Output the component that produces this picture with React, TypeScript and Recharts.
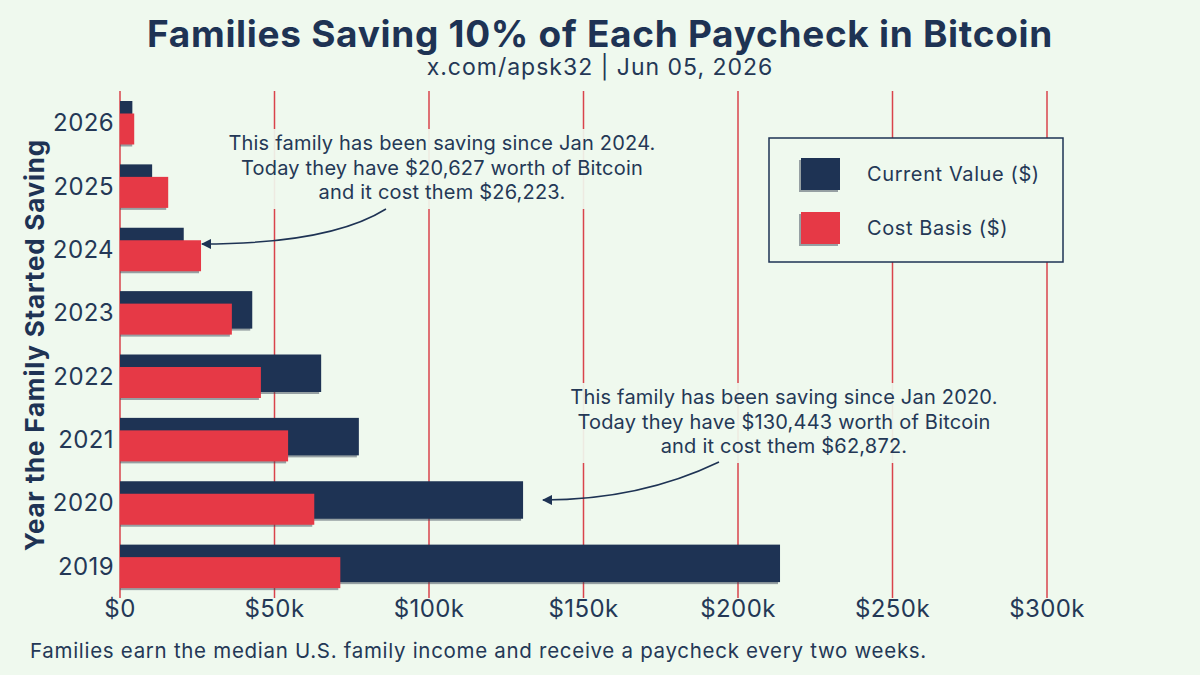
import { Bar, BarChart, CartesianGrid, XAxis, YAxis } from "recharts";

// values
const YEARS = ["2026", "2025", "2024", "2023", "2022", "2021", "2020", "2019"];
const CURRENT_VALUE = [4000, 10400, 20627, 42800, 65100, 77300, 130443, 213600];
const COST_BASIS = [4600, 15600, 26223, 36200, 45600, 54400, 62872, 71300];
const X_TICKS = [0, 50000, 100000, 150000, 200000, 250000, 300000];

const NAVY = "#1e3354";
const RED = "#e63946";
const BG = "#eff9ee";
const INK = "#243856";
const GRID = "#d9434b";
const FONT = "Inter, 'Noto Sans', sans-serif";

const data = YEARS.map((year, i) => ({ year, current: CURRENT_VALUE[i], cost: COST_BASIS[i] }));

const fmtK = (v: number) => (v === 0 ? "$0" : `$${v / 1000}k`);

function shadowBar(fill: string, extra: number) {
  return (props: any) => {
    const { x, y, width, height } = props;
    if (!width || width <= 0) return <g />;
    return (
      <g>
        <rect x={x} y={y + 2} width={Math.max(width - 2, 0)} height={height + extra} fill="#3d4758" opacity={0.5} />
        <rect x={x} y={y} width={width} height={height + extra} fill={fill} />
      </g>
    );
  };
}

function Note({ cx, lines, top }: { cx: number; lines: string[]; top: number }) {
  return (
    <g>
      <rect x={cx - 232} y={top - 14} width={464} height={80} fill={BG} opacity={0.92} />
      {lines.map((t, i) => (
        <text
          key={i}
          x={cx}
          y={top + i * 24.5}
          textAnchor="middle"
          dominantBaseline="central"
          fontSize={20}
          letterSpacing={0.2}
          fill={INK}
          fontFamily={FONT}
        >
          {t}
        </text>
      ))}
    </g>
  );
}

const tickStyle = { fill: INK, fontSize: 24, fontFamily: FONT, letterSpacing: 0.4 };

export default function App() {
  return (
    <div style={{ position: "absolute", left: 0, top: 0, width: 1200, height: 675, background: BG }}>
      <BarChart
        width={1200}
        height={675}
        data={data}
        layout="vertical"
        margin={{ top: 91, right: 153, bottom: 47, left: 50 }}
        barSize={31}
        barGap={-18.5}
      >
        <CartesianGrid horizontal={false} stroke={GRID} strokeWidth={1.5} />
        <XAxis
          type="number"
          domain={[0, 300000]}
          ticks={X_TICKS}
          interval={0}
          tickFormatter={fmtK}
          axisLine={false}
          tickLine={false}
          tickSize={0}
          tickMargin={2}
          height={30}
          tick={tickStyle}
        />
        <YAxis
          type="category"
          dataKey="year"
          width={70}
          axisLine={false}
          tickLine={false}
          tickSize={0}
          tickMargin={6}
          tick={tickStyle}
        />
        <Bar dataKey="current" shape={shadowBar(NAVY, 6.5)} isAnimationActive={false} />
        <Bar dataKey="cost" shape={shadowBar(RED, 0)} isAnimationActive={false} />
      </BarChart>

      <svg width={1200} height={675} style={{ position: "absolute", left: 0, top: 0, pointerEvents: "none" }}>
        <defs>
          <marker id="head" viewBox="0 0 10 10" refX="9" refY="5" markerWidth="7" markerHeight="7" orient="auto-start-reverse">
            <path d="M0,0 L10,5 L0,10 z" fill={NAVY} />
          </marker>
        </defs>
        <text
          x={600}
          y={33}
          textAnchor="middle"
          dominantBaseline="central"
          fontSize={37}
          fontWeight={700}
          letterSpacing={0.7}
          fill={NAVY}
          fontFamily={FONT}
        >
          Families Saving 10% of Each Paycheck in Bitcoin
        </text>
        <text x={600} y={67} textAnchor="middle" dominantBaseline="central" fontSize={23} letterSpacing={1} fill={INK} fontFamily={FONT}>
          x.com/apsk32 | Jun 05, 2026
        </text>
        <text
          transform="translate(34,345) rotate(-90)"
          textAnchor="middle"
          dominantBaseline="central"
          fontSize={26}
          fontWeight={700}
          letterSpacing={0.8}
          fill={NAVY}
          fontFamily={FONT}
        >
          Year the Family Started Saving
        </text>
        <text x={30} y={650} dominantBaseline="central" fontSize={20.5} letterSpacing={0.7} fill={INK} fontFamily={FONT}>
          Families earn the median U.S. family income and receive a paycheck every two weeks.
        </text>

        <Note cx={442} top={143} lines={["This family has been saving since Jan 2024.", "Today they have $20,627 worth of Bitcoin", "and it cost them $26,223."]} />
        <path d="M386,209 Q330,244 202,244" fill="none" stroke={NAVY} strokeWidth={1.5} markerEnd="url(#head)" />

        <Note cx={784} top={397} lines={["This family has been saving since Jan 2020.", "Today they have $130,443 worth of Bitcoin", "and it cost them $62,872."]} />
        <path d="M719,462 Q640,500 543,500" fill="none" stroke={NAVY} strokeWidth={1.5} markerEnd="url(#head)" />

        <rect x={769} y={138} width={294} height={124} fill={BG} stroke={NAVY} strokeWidth={1.5} />
        <rect x={799} y={160} width={39} height={32} fill="#3d4758" opacity={0.5} />
        <rect x={801} y={158} width={39} height={32} fill={NAVY} />
        <text x={867} y={174} dominantBaseline="central" fontSize={20} letterSpacing={0.6} fill={INK} fontFamily={FONT}>
          Current Value ($)
        </text>
        <rect x={799} y={214} width={39} height={32} fill="#3d4758" opacity={0.5} />
        <rect x={801} y={212} width={39} height={32} fill={RED} />
        <text x={867} y={228} dominantBaseline="central" fontSize={20} letterSpacing={0.6} fill={INK} fontFamily={FONT}>
          Cost Basis ($)
        </text>
      </svg>
    </div>
  );
}
